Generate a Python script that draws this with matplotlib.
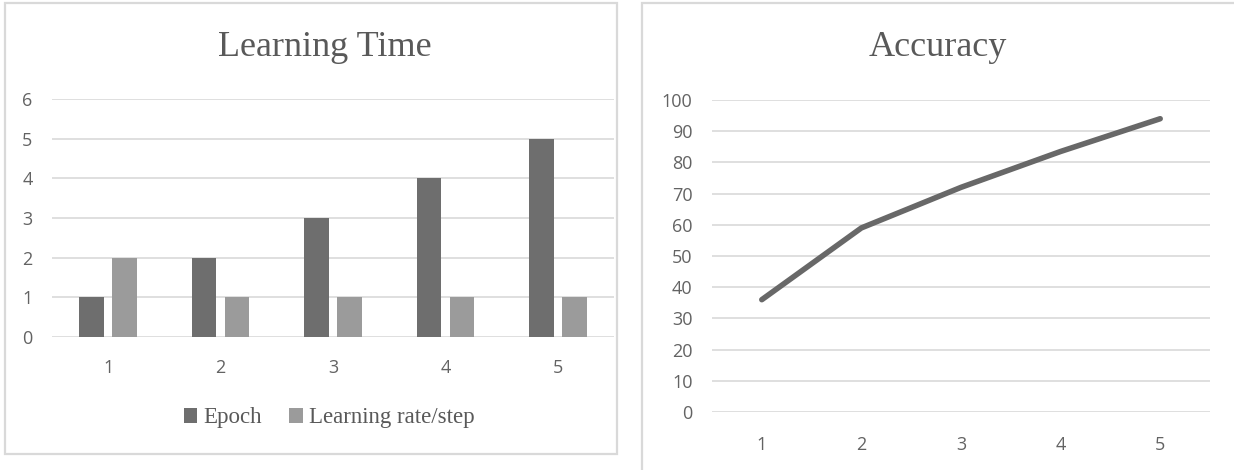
import matplotlib.pyplot as plt
import numpy as np
from matplotlib.patches import Rectangle

# Data
runs = ["1", "2", "3", "4", "5"]
epoch = [1, 2, 3, 4, 5]
lr_step = [2, 1, 1, 1, 1]
accuracy = [36, 59, 72, 83.5, 94]

GRID = "#d9d9d9"
TEXT = "#595959"
TICK = "#636363"
DARK = "#6e6e6e"
LIGHT = "#9b9b9b"
LINE = "#686868"

W, H = 1234, 470


def fx(px):
    return px / W


def fy(py):
    return 1 - py / H


def style_axes(ax, yticks):
    ax.set_yticks(yticks)
    ax.yaxis.grid(True, color=GRID, linewidth=1.2)
    ax.set_axisbelow(True)
    for s in ax.spines.values():
        s.set_visible(False)
    ax.tick_params(length=0, labelsize=13, labelcolor=TICK)
    for lab in ax.get_xticklabels() + ax.get_yticklabels():
        lab.set_fontfamily("Open Sans")


fig = plt.figure(figsize=(W / 100, H / 100), dpi=100)
fig.patch.set_facecolor("white")

# panel frames
fig.add_artist(Rectangle((fx(5), fy(454)), fx(612), 451 / H, transform=fig.transFigure,
                         fill=False, edgecolor=GRID, linewidth=1.6))
fig.add_artist(Rectangle((fx(642), fy(475)), fx(600), 472 / H, transform=fig.transFigure,
                         fill=False, edgecolor=GRID, linewidth=1.6))

# Learning Time
ax1 = fig.add_axes([fx(52), fy(337), fx(562), 238 / H])
x = np.arange(len(runs))
w = 0.22
ax1.bar(x - 0.147, epoch, w, color=DARK, label="Epoch")
ax1.bar(x + 0.147, lr_step, w, color=LIGHT, label="Learning rate/step")
ax1.set_xlim(-0.5, len(runs) - 0.5)
ax1.set_ylim(0, 6)
ax1.set_xticks(x, runs)
style_axes(ax1, range(0, 7))
ax1.tick_params(axis="x", pad=16)
ax1.tick_params(axis="y", pad=14)
fig.text(fx(325), fy(48), "Learning Time", ha="center", va="center",
         fontsize=26, color=TEXT, family="Liberation Serif")
fig.legend(loc="center", bbox_to_anchor=(fx(329), fy(418)), ncol=2, frameon=False,
           handlelength=0.6, handleheight=0.6, handletextpad=0.25, columnspacing=1.2,
           prop={"family": "Liberation Serif", "size": 16.5}, labelcolor=TEXT)

# Accuracy
ax2 = fig.add_axes([fx(712), fy(412), fx(498), 312 / H])
x2 = np.arange(len(runs))
ax2.plot(x2, accuracy, color=LINE, linewidth=4, solid_capstyle="round")
ax2.set_xlim(-0.5, len(runs) - 0.5)
ax2.set_ylim(0, 100)
ax2.set_xticks(x2, runs)
style_axes(ax2, range(0, 101, 10))
ax2.tick_params(axis="x", pad=17)
ax2.tick_params(axis="y", pad=14)
fig.text(fx(938), fy(48), "Accuracy", ha="center", va="center",
         fontsize=26, color=TEXT, family="Liberation Serif")

fig.savefig("out.png", dpi=100)
